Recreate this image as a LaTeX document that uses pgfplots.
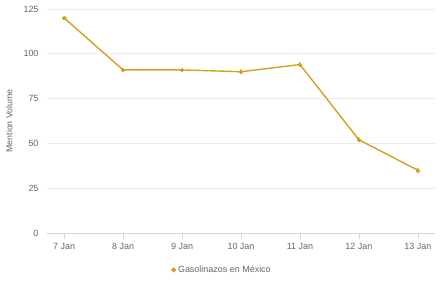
\documentclass[border=0pt]{standalone}
\usepackage{pgfplots}
\pgfplotsset{compat=1.18}
\usepackage{fontspec}
\setmainfont{Liberation Sans}
\definecolor{linec}{RGB}{212,160,30}
\definecolor{txt}{RGB}{102,102,102}
\definecolor{gridc}{RGB}{235,235,235}
\definecolor{axc}{RGB}{204,214,235}
\begin{document}
\begin{tikzpicture}
\useasboundingbox (0,0) rectangle (440bp,293bp);
\begin{axis}[
  at={(47bp,60bp)}, anchor=south west,
  scale only axis, width=388bp, height=224bp,
  xmin=-0.29, xmax=6.29, ymin=0, ymax=125,
  xtick={0,...,6},
  xticklabels={7 Jan,8 Jan,9 Jan,10 Jan,11 Jan,12 Jan,13 Jan},
  ytick={0,25,50,75,100,125},
  /pgf/number format/assume math mode=true,
  axis x line*=bottom, axis y line*=left,
  x axis line style={draw=axc, line width=0.8pt, -},
  y axis line style={draw=none},
  xtick style={draw=axc, line width=0.8pt},
  xtick align=outside, major tick length=6bp,
  ymajorgrids, grid style={draw=gridc, line width=0.6pt},
  ytick style={draw=none},
  tick label style={font=\fontsize{9}{10}\selectfont, text=txt},
  yticklabel style={xshift=-5bp},
  xticklabel style={yshift=-0.5bp},
  ylabel={Mention Volume},
  ylabel style={font=\fontsize{8.8}{10}\selectfont, text=txt},
  every axis y label/.append style={at={(axis description cs:-0.08,0.5)}, anchor=south},
  legend style={at={(0.451,-0.165)}, anchor=center, draw=none, fill=none,
     font=\fontsize{9}{10}\selectfont, text=txt},
  legend image code/.code={\fill[linec] (0.12cm,0cm) circle (1.7bp);},
  clip=false,
]
\addplot[color=linec, line width=1.4pt, mark=*, mark size=1.9bp, mark options={fill=linec, draw=linec, line width=0pt}]
  coordinates {(0,120) (1,91) (2,91) (3,90) (4,94) (5,52) (6,35)};
\addlegendentry{Gasolinazos en México}
\end{axis}
\end{tikzpicture}
\end{document}
